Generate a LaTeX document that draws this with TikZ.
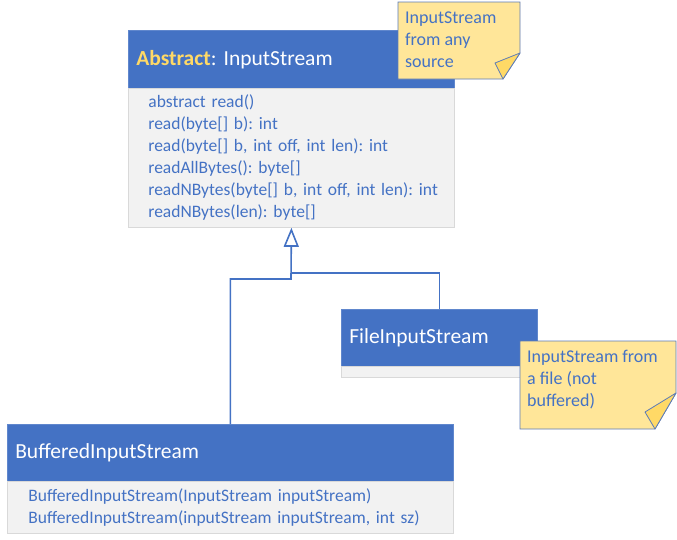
\documentclass[tikz,border=0pt]{standalone}
\usepackage{fontspec}
\setmainfont{Carlito}
\usetikzlibrary{arrows.meta}
\definecolor{hblue}{HTML}{4472C4}
\definecolor{bodyfill}{HTML}{F2F2F2}
\definecolor{bodyline}{HTML}{D9D9D9}
\definecolor{gold}{HTML}{FFD966}
\definecolor{notefill}{HTML}{FFE699}
\definecolor{noteline}{HTML}{5B7BB8}
\tikzset{
 hdr/.style={fill=hblue, draw=hblue!85!white, line width=0.6pt, text=white, font=\fontsize{21.5}{26}\selectfont\frenchspacing, anchor=north west, align=left, inner xsep=8pt, inner ysep=0pt},
 bodybox/.style={fill=bodyfill, draw=bodyline, line width=0.8pt, text=hblue, font=\fontsize{17.5}{22}\selectfont\frenchspacing, anchor=north west, align=left, inner xsep=4pt, inner ysep=0pt},
 notebox/.style={fill=notefill, draw=noteline, line width=0.8pt, line join=miter},
 foldtri/.style={fill=gold, draw=noteline, line width=0.8pt, line join=round},
 notetxt/.style={text=hblue, font=\fontsize{18}{22}\selectfont\frenchspacing, anchor=west, align=left, inner sep=0pt},
 conn/.style={draw=hblue, line width=1.6pt},
 inh/.style={-{Triangle[open, width=15pt, length=19pt]}}
}
\begin{document}
\begin{tikzpicture}[x=1pt,y=-1pt]
\useasboundingbox (0,0) rectangle (677,539);
\fill[white] (0,0) rectangle (677,539);
% InputStream
\node[hdr, text width=310pt, minimum height=58pt] (ih) at (128,30) {\textcolor{gold}{\textbf{Abstract}}: InputStream};
\node[bodybox, text width=318pt, minimum height=139pt] (ib) at (128,88) {\leftskip=16pt abstract read()\\read(byte[] b): int\\read(byte[] b, int off, int len): int\\readAllBytes(): byte[]\\readNBytes(byte[] b, int off, int len): int\\readNBytes(len): byte[]\par};
% note 1
\draw[notebox] (398,2) -- (520,2) -- (520,53) -- (503,79) -- (398,79) -- cycle;
\draw[foldtri] (520,53) -- (495,63) -- (503,79) -- cycle;
\node[notetxt] (n1) at (405,40) {InputStream\\from any\\source};
% FileInputStream
\node[hdr, text width=180pt, minimum height=57pt] (fh) at (341,309) {FileInputStream};
\node[bodybox, minimum width=196pt, minimum height=11pt, inner sep=0pt] (fb) at (341,366) {};
% note 2
\draw[notebox] (520,341) -- (676,341) -- (676,393) -- (655,429) -- (520,429) -- cycle;
\draw[foldtri] (676,393) -- (645,412) -- (655,429) -- cycle;
\node[notetxt] (n2) at (527,380) {InputStream from\\a file (not\\buffered)};
% BufferedInputStream
\node[hdr, text width=430pt, minimum height=57pt] (bh) at (7,424) {BufferedInputStream};
\node[bodybox, text width=438pt, minimum height=52pt] (bb) at (7,481) {\leftskip=17pt BufferedInputStream(InputStream inputStream)\\BufferedInputStream(inputStream inputStream, int sz)\par};
% connectors
\coordinate (jb) at (291,279);
\coordinate (jf) at (291,273);
\draw[conn,inh] (bh.north) |- (jb) -- (ib.south);
\draw[conn] (fh.north) |- (jf);
\end{tikzpicture}
\end{document}
